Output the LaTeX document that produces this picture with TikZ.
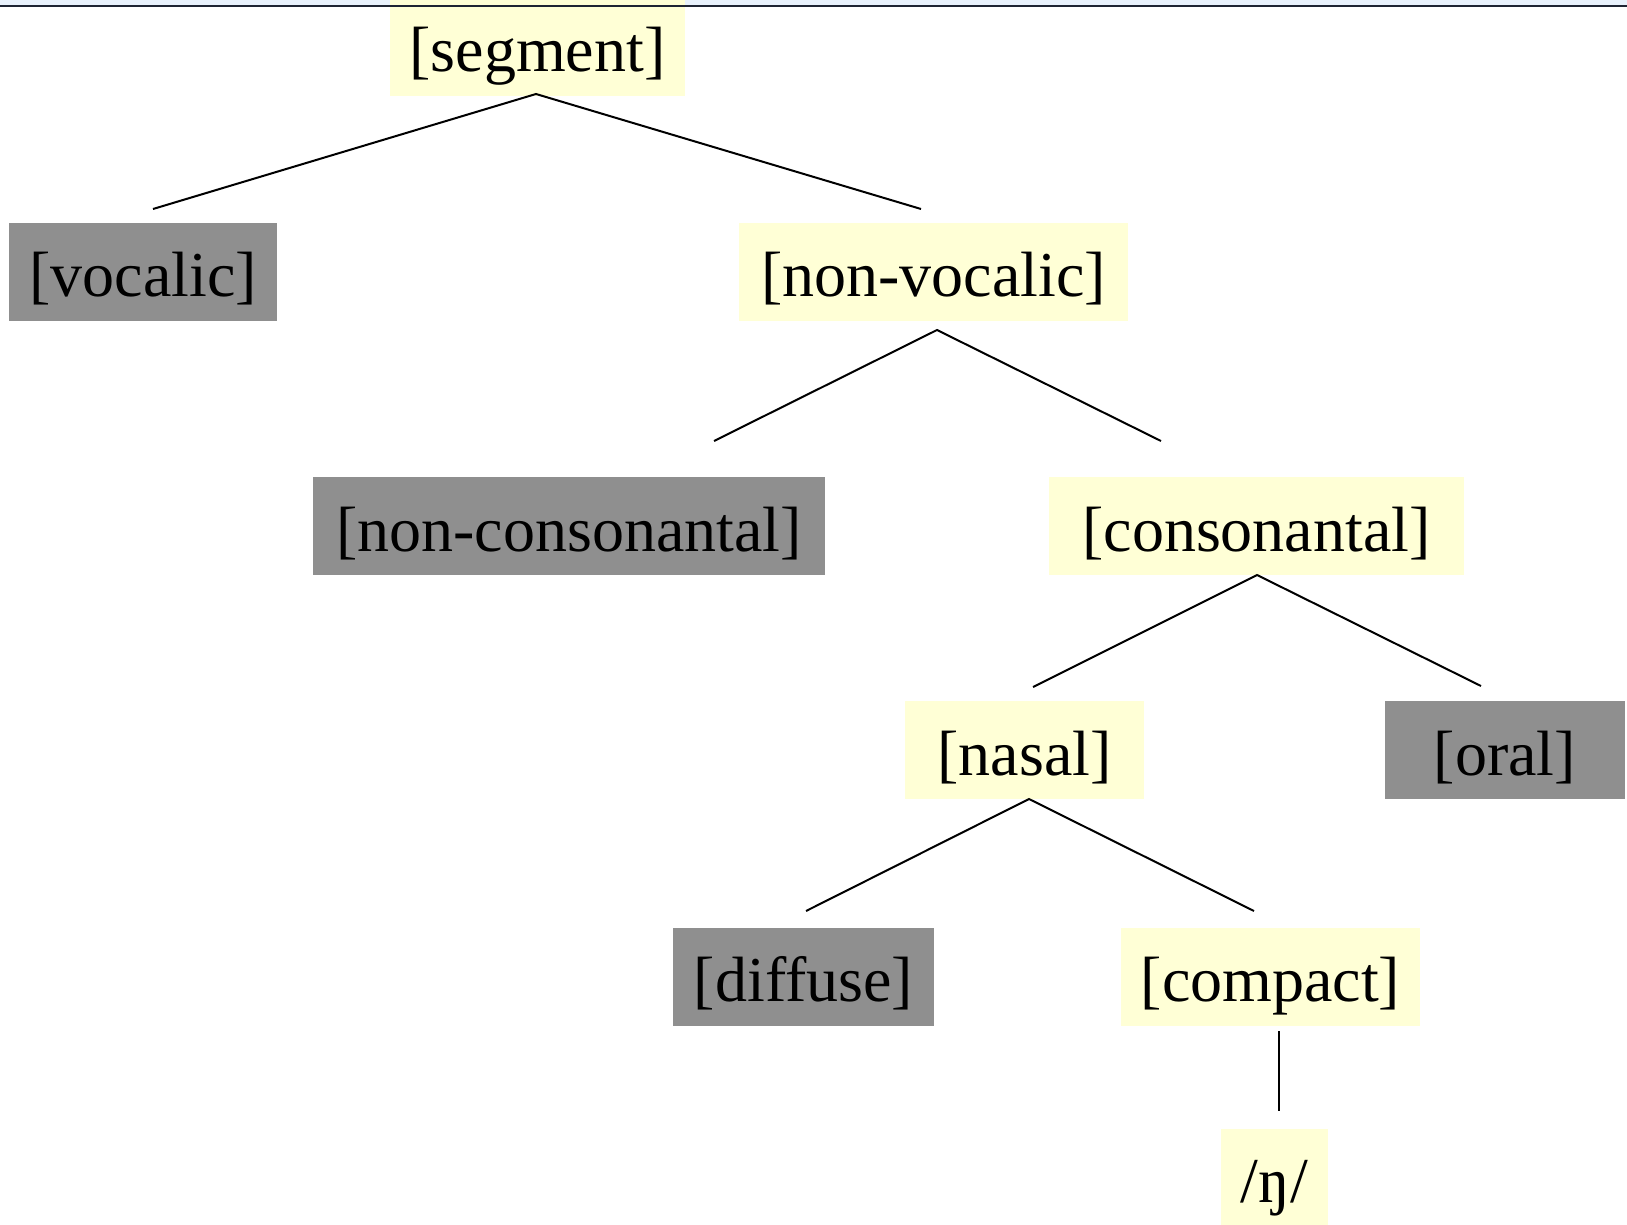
\documentclass[tikz,border=0pt]{standalone}
\usepackage{fontspec}
\setmainfont{Liberation Serif}
\definecolor{featyes}{HTML}{FFFFD6}
\definecolor{featno}{HTML}{8F8F8F}
\definecolor{stripblue}{HTML}{E8F1FC}
\definecolor{ruledark}{HTML}{1E2433}
\tikzset{
  feat/.style={inner sep=0pt, minimum height=49pt,
    text height=33pt, text depth=8pt,
    font=\fontsize{32}{38}\selectfont},
  active/.style={feat, fill=featyes},
  inactive/.style={feat, fill=featno},
  branch/.style={line width=1pt, black},
}
\begin{document}
\begin{tikzpicture}[x=0.5pt, y=-0.5pt]
\useasboundingbox (0,0) rectangle (1627,1225);
% header strip
\fill[stripblue] (0,0) rectangle (1627,5);

% feature nodes (positions in px units)
\node[active,   minimum width=147.5pt] (seg)   at (537.5,47)   {[segment]};
\node[inactive, minimum width=134pt]   (voc)   at (143,272)    {[vocalic]};
\node[active,   minimum width=194.5pt] (nvoc)  at (933.5,272)  {[non-vocalic]};
\node[inactive, minimum width=256pt]   (ncons) at (569,526)    {[non-consonantal]};
\node[active,   minimum width=207.5pt] (cons)  at (1256.5,526) {[consonantal]};
\node[active,   minimum width=119.5pt] (nas)   at (1024.5,750) {[nasal]};
\node[inactive, minimum width=120pt]   (oral)  at (1505,750)   {[oral]};
\node[inactive, minimum width=130.5pt] (diff)  at (803.5,976.5){[diffuse]};
\node[active,   minimum width=149.5pt] (comp)  at (1270.5,976.5){[compact]};
\node[active,   minimum width=53.5pt, minimum height=48pt] (eng) at (1274.5,1177) {/ŋ/};

% branch end points
\coordinate (segB)  at (536,94);
\coordinate (vocT)  at (153,209);
\coordinate (nvocT) at (921,209);
\coordinate (nvocB) at (937,330);
\coordinate (nconsT) at (714,441);
\coordinate (consT) at (1161,441);
\coordinate (consB) at (1257,575);
\coordinate (nasT)  at (1033,687);
\coordinate (oralT) at (1481,686);
\coordinate (nasB)  at (1029,799);
\coordinate (diffT) at (806,911);
\coordinate (compT) at (1254,911);
\coordinate (compB) at (1279,1031);
\coordinate (engT)  at (1279,1111);

% branches
\draw[branch] (vocT) -- (segB) -- (nvocT);
\draw[branch] (nconsT) -- (nvocB) -- (consT);
\draw[branch] (nasT) -- (consB) -- (oralT);
\draw[branch] (diffT) -- (nasB) -- (compT);
\draw[branch] (compB) -- (engT);

% header rule
\draw[ruledark, line width=1.4pt] (0,6) -- (1627,6);
\end{tikzpicture}
\end{document}
